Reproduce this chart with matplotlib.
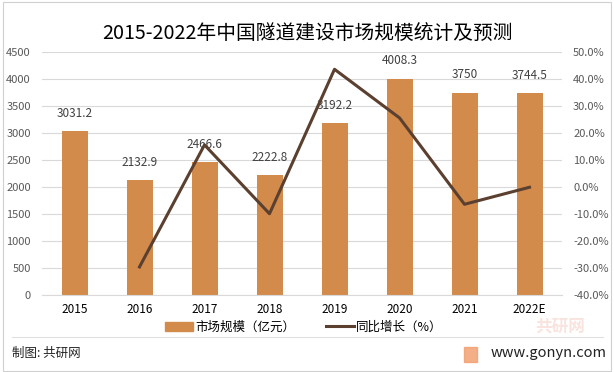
import matplotlib
matplotlib.use("Agg")
import matplotlib.pyplot as plt
from matplotlib.patches import Rectangle
from matplotlib.lines import Line2D

plt.rcParams['font.family'] = ['Noto Sans CJK SC', 'DejaVu Sans']

years = ["2015", "2016", "2017", "2018", "2019", "2020", "2021", "2022E"]
market = [3031.2, 2132.9, 2466.6, 2222.8, 3192.2, 4008.3, 3750, 3744.5]
growth_years = ["2016", "2017", "2018", "2019", "2020", "2021", "2022E"]
growth = [-29.6, 15.6, -9.9, 43.6, 25.6, -6.4, -0.1]
left_ticks = [0, 500, 1000, 1500, 2000, 2500, 3000, 3500, 4000, 4500]
right_ticks = [-40, -30, -20, -10, 0, 10, 20, 30, 40, 50]

bar_color = "#D38B4C"
line_color = "#5B4030"
tick_color = "#595959"

fig = plt.figure(figsize=(6.14, 3.72), dpi=100)
ax = fig.add_axes([42/614, 77/372, 520/614, 243/372])
ax2 = ax.twinx()

x = list(range(len(years)))
ax.bar(x, market, width=0.4, color=bar_color, zorder=2)
ax.set_ylim(0, 4500)
ax.set_xlim(-0.5, len(years) - 0.5)
ax.set_yticks(left_ticks)
ax.set_yticklabels([str(t) for t in left_ticks])
ax.grid(axis='y', color="#D9D9D9", linewidth=0.8, zorder=0)
ax.set_axisbelow(True)
for s in ax.spines.values():
    s.set_visible(False)
for s in ax2.spines.values():
    s.set_visible(False)
ax.spines['bottom'].set_visible(True)
ax.spines['bottom'].set_color("#D9D9D9")
ax.tick_params(axis='y', length=0, labelsize=8, labelcolor=tick_color, pad=8)
ax.set_xticks(x)
ax.set_xticklabels(years)
ax.tick_params(axis='x', length=0, labelsize=8.5, labelcolor="#000000", pad=6)

for xi, v in zip(x, market):
    ax.annotate(f"{v:g}", (xi, v), xytext=(0, 8), textcoords='offset points',
                ha='center', va='bottom', fontsize=8.5, color="#404040", zorder=3)

gx = [years.index(y) for y in growth_years]
ax2.plot(gx, growth, color=line_color, linewidth=2.2, zorder=5)
ax2.set_ylim(-40, 50)
ax2.set_yticks(right_ticks)
ax2.set_yticklabels([f"{t:.1f}%" for t in right_ticks])
ax2.tick_params(axis='y', length=0, labelsize=8, labelcolor=tick_color, pad=8)
ax2.set_zorder(ax.get_zorder() + 1)
ax2.patch.set_visible(False)

fig.text(0.5, 0.91, "2015-2022年中国隧道建设市场规模统计及预测", ha='center', va='center',
         fontsize=14.2, color="#000000")

handles = [Rectangle((0, 0), 1, 1, color=bar_color),
           Line2D([0], [0], color=line_color, linewidth=2.2)]
fig.legend(handles, ["市场规模（亿元）", "同比增长（%）"], loc='center',
           bbox_to_anchor=(0.495, 1 - 327/372), ncol=2, frameon=False, fontsize=9,
           handlelength=2.2, handletextpad=0.2, columnspacing=2.5)

# footer separator and border
fig.add_artist(Line2D([12/614, 603/614], [1 - 337/372, 1 - 337/372], color="#E0E0E0", linewidth=0.8))
fig.add_artist(Rectangle((3/614, 1/372), 608/614, 369/372, fill=False, edgecolor="#D0D0D0", linewidth=0.8))

fig.text(12/614, 1 - 353/372, "制图: 共研网", ha='left', va='center', fontsize=9, color="#222222")
fig.text(560/614, 1 - 327/372, "共研网", ha='center', va='center', fontsize=12,
         color="#F2C2B8", alpha=0.45, fontweight='bold')
fig.text(607/614, 1 - 353/372, "www.gonyn.com", ha='right', va='center', fontsize=10.5, color="#222222")
fig.add_artist(Rectangle((464/614, 1 - 362/372), 13/614, 15/372, color="#F29B6B", alpha=0.8))

fig.savefig("out.png", dpi=100)
